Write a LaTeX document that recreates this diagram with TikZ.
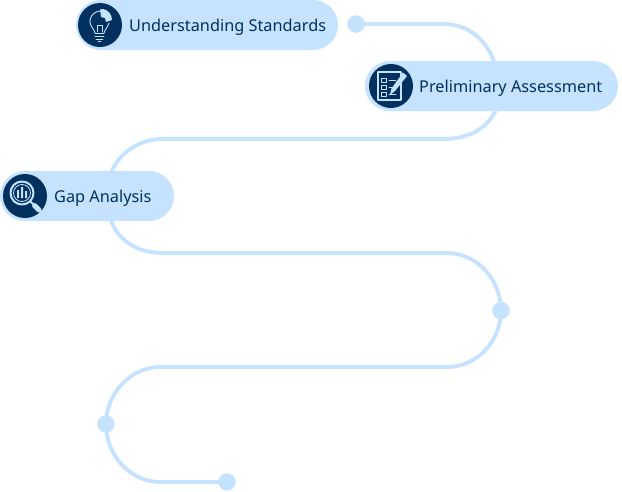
\documentclass[tikz,border=0pt]{standalone}
\usepackage{fontspec}
\setmainfont{Noto Sans}
\definecolor{lightb}{HTML}{C5E2FF}
\definecolor{darkb}{HTML}{02315F}
\tikzset{
  pill/.style={fill=lightb,draw=none,rounded corners=25pt,minimum height=50pt,inner sep=0pt},
  badge/.style={circle,fill=darkb,draw=none,minimum size=44pt,inner sep=0pt},
  dot/.style={circle,fill=lightb,draw=none,minimum size=17.5pt,inner sep=0pt},
  lbl/.style={text=darkb,font=\fontsize{16.3pt}{19pt}\selectfont,anchor=west,inner sep=0pt},
  trail/.style={draw=lightb,line width=3.8pt},
  ico/.style={draw=lightb,line width=.9pt,fill=none,line cap=round,line join=round},
  icofill/.style={fill=lightb,draw=none}
}
\begin{document}
\begin{tikzpicture}[x=1pt,y=-1pt]
\useasboundingbox[fill=white] (0,0) rectangle (622,491);
% trail
\node[dot] (d1) at (356,24) {};
\node[dot] (d2) at (501,310.5) {};
\node[dot] (d3) at (106,424) {};
\node[dot] (d4) at (227,482) {};
\coordinate (p2c) at (497,86);
\coordinate (p3c) at (109,196);
\draw[trail] (d1.center) -- (443,24) .. controls (472,24) and (490,44) .. (497,70) -- (p2c)
  -- (497,108) .. controls (488,128) and (470,139) .. (443,139) -- (163,139)
  .. controls (133,139) and (113,160) .. (109,180) -- (p3c)
  -- (109,214) .. controls (114,236) and (133,253) .. (163,253) -- (447,253)
  .. controls (477,253) and (501,280) .. (d2.center)
  .. controls (501,341) and (477,367) .. (447,367) -- (160,367)
  .. controls (130,367) and (106,394) .. (d3.center)
  .. controls (106,455) and (130,482) .. (160,482) -- (d4.center);
% pills
\node[pill,minimum width=262pt] (p1) at (207,25) {};
\node[pill,minimum width=253pt] (p2) at (491.5,86) {};
\node[pill,minimum width=174pt] (p3) at (87,196) {};
\node[badge] (b1) at (100,25) {};
\node[badge] (b2) at (391,86) {};
\node[badge] (b3) at (25,196) {};
\node[lbl] (t1) at (129,27) {Understanding Standards};
\node[lbl] (t2) at (419,88) {Preliminary Assessment};
\node[lbl] (t3) at (54,198) {Gap Analysis};
% bulb icon
\draw[ico] (95,33) .. controls (94,28) and (89,26) .. (90,20) .. controls (91,14) and (96,11) .. (101,11);
\draw[ico] (104,33) .. controls (105,29) and (108,27) .. (109,23);
\draw[ico] (95,33) -- (104,33) (95,36) -- (104,36) (96,39) -- (103,39) (98,41.5) -- (101,41.5);
\draw[ico] (97,32) -- (97,25) -- (102,25) -- (102,32);
\path[icofill] (100,9.5) -- (103,9) .. controls (108,10) and (112,14) .. (112,20) -- (106,22) -- (105,18) -- (101,17) -- cycle;
% checklist icon
\draw[ico,line width=1.2pt] (378,72) rectangle (401,100);
\foreach \yy in {78,85,92}{
  \draw[ico,line width=.8pt] (381,\yy) rectangle (386,\yy+4.5);
  \draw[ico,line width=.8pt] (389,\yy+2) -- (396,\yy+2);
}
\path[icofill] (403,72.5) -- (407,76) -- (395,91) -- (390,95) -- (391.5,88.5) -- cycle;
% magnifier icon
\draw[ico,line width=2pt] (22,193) circle (11.5);
\draw[ico,line width=.8pt] (22,193) circle (8.5);
\path[icofill] (17,190) rectangle (19,198) (21,187) rectangle (23,198) (25,191) rectangle (27,198);
\draw[lightb,line width=2pt] (30.5,201.5) -- (33,204);
\draw[lightb,line width=5pt,line cap=round] (34.5,205.5) -- (39,210);
\end{tikzpicture}
\end{document}
